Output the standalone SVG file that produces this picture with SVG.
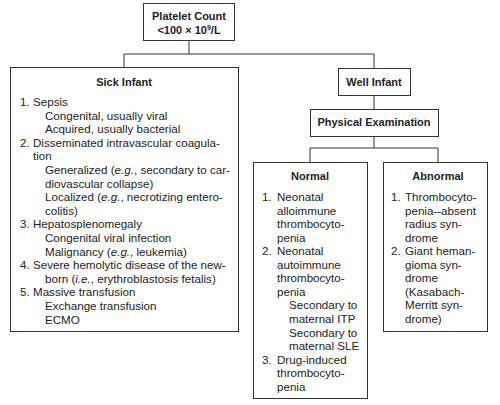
<svg xmlns="http://www.w3.org/2000/svg" width="500" height="405" viewBox="0 0 500 405">
<style>
.box{fill:#fff;stroke:#333;stroke-width:1}
.ln{fill:none;stroke:#333;stroke-width:1}
text{font-family:"Liberation Sans",Arial,sans-serif;fill:#222}
.t{font-size:11px;font-weight:bold;text-anchor:middle}
.b{font-size:11.6px}
.i{font-style:italic}
</style>
<rect width="500" height="405" fill="#fff"/>
<g id="connectors">
<path class="ln" d="M189,40V54M124,54H374M124,54V67M374,54V68M374,95V109M374,136V148M310,148H438M310,148V162M438,148V162"/>
</g>
<g id="platelet">
<rect class="box" x="143.5" y="3.5" width="91" height="37"/>
<text class="t" x="189" y="20">Platelet Count</text>
<text class="t" x="189" y="34">&lt;100 × 10<tspan font-size="7" dy="-4">9</tspan><tspan dy="4">/L</tspan></text>
</g>
<g id="sick">
<rect class="box" x="10.5" y="67.5" width="228" height="264"/>
<text class="t" x="124" y="86">Sick Infant</text>
<g class="b">
<text x="20" y="106">1.</text><text x="33" y="106">Sepsis</text>
<text x="45" y="119.6">Congenital, usually viral</text>
<text x="45" y="133.2">Acquired, usually bacterial</text>
<text x="20" y="146.8">2.</text><text x="33" y="146.8">Disseminated intravascular coagula-</text>
<text x="33" y="160.4">tion</text>
<text x="45" y="174">Generalized (<tspan class="i">e.g.</tspan>, secondary to car-</text>
<text x="45" y="187.6">diovascular collapse)</text>
<text x="45" y="201.2">Localized (<tspan class="i">e.g.</tspan>, necrotizing entero-</text>
<text x="45" y="214.8">colitis)</text>
<text x="20" y="228.4">3.</text><text x="33" y="228.4">Hepatosplenomegaly</text>
<text x="45" y="242">Congenital viral infection</text>
<text x="45" y="255.6">Malignancy (<tspan class="i">e.g.</tspan>, leukemia)</text>
<text x="20" y="269.2">4.</text><text x="33" y="269.2">Severe hemolytic disease of the new-</text>
<text x="45" y="282.8">born (<tspan class="i">i.e.</tspan>, erythroblastosis fetalis)</text>
<text x="20" y="296.4">5.</text><text x="33" y="296.4">Massive transfusion</text>
<text x="45" y="310">Exchange transfusion</text>
<text x="45" y="323.6">ECMO</text>
</g>
</g>
<g id="well">
<rect class="box" x="338.5" y="68.5" width="72" height="27"/>
<text class="t" x="374" y="86">Well Infant</text>
</g>
<g id="physical">
<rect class="box" x="310.5" y="109.5" width="128" height="27"/>
<text class="t" x="374" y="126">Physical Examination</text>
</g>
<g id="normal">
<rect class="box" x="253.5" y="162.5" width="114" height="236"/>
<text class="t" x="310" y="180">Normal</text>
<g class="b">
<text x="262" y="201">1.</text><text x="277" y="201">Neonatal</text>
<text x="277" y="214.6">alloimmune</text>
<text x="277" y="228.1">thrombocyto-</text>
<text x="277" y="241.7">penia</text>
<text x="262" y="255.2">2.</text><text x="277" y="255.2">Neonatal</text>
<text x="277" y="268.8">autoimmune</text>
<text x="277" y="282.3">thrombocyto-</text>
<text x="277" y="295.9">penia</text>
<text x="289" y="309.4">Secondary to</text>
<text x="289" y="323">maternal ITP</text>
<text x="289" y="336.5">Secondary to</text>
<text x="289" y="350.1">maternal SLE</text>
<text x="262" y="363.6">3.</text><text x="277" y="363.6">Drug-induced</text>
<text x="277" y="377.2">thrombocyto-</text>
<text x="277" y="390.7">penia</text>
</g>
</g>
<g id="abnormal">
<rect class="box" x="383.5" y="162.5" width="104" height="169"/>
<text class="t" x="438" y="180">Abnormal</text>
<g class="b">
<text x="391" y="201">1.</text><text x="405" y="201">Thrombocyto-</text>
<text x="405" y="214.6">penia--absent</text>
<text x="405" y="228.1">radius syn-</text>
<text x="405" y="241.7">drome</text>
<text x="391" y="255.2">2.</text><text x="405" y="255.2">Giant heman-</text>
<text x="405" y="268.8">gioma syn-</text>
<text x="405" y="282.3">drome</text>
<text x="405" y="295.9">(Kasabach-</text>
<text x="405" y="309.4">Merritt syn-</text>
<text x="405" y="323">drome)</text>
</g>
</g>
</svg>
